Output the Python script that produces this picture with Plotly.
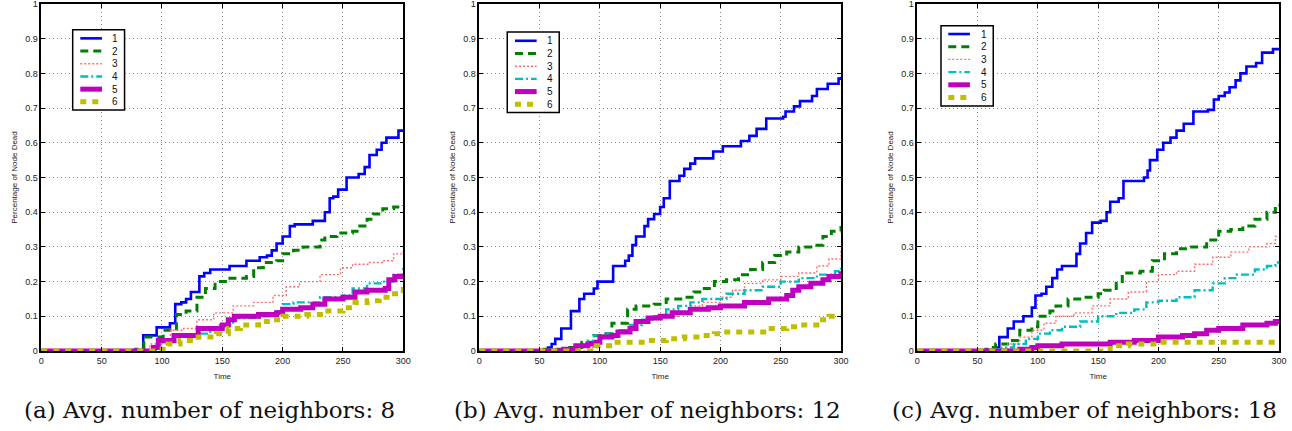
import plotly.graph_objects as go

W, H = 1292, 431

# ---------------- data (time, fraction of nodes dead) ----------------
SERIES_NAMES = ["1", "2", "3", "4", "5", "6"]
CAPTIONS = ["(a) Avg. number of neighbors: 8",
            "(b) Avg. number of neighbors: 12",
            "(c) Avg. number of neighbors: 18"]
X_TICKS = [0, 50, 100, 150, 200, 250, 300]
Y_TICKS = [0, 0.1, 0.2, 0.3, 0.4, 0.5, 0.6, 0.7, 0.8, 0.9, 1]

A1 = [(0, 0), (84.5, 0.045), (95.6, 0.068), (106.6, 0.08), (111, 0.135), (116, 0.14), (120, 0.15), (124, 0.17),
      (131, 0.215), (135, 0.225), (140, 0.235), (156, 0.245), (170, 0.26), (181, 0.27), (187, 0.275), (191, 0.29),
      (195, 0.31), (200, 0.33), (206, 0.36), (210, 0.365), (225, 0.375), (235, 0.4), (239, 0.44), (242, 0.445),
      (246, 0.465), (253, 0.5), (263, 0.51), (268, 0.53), (272, 0.565), (278, 0.58), (282, 0.6), (286, 0.615),
      (296, 0.635), (300, 0.635)]
A2 = [(0, 0), (78, 0.005), (85, 0.04), (101, 0.06), (112, 0.105), (120, 0.115), (129, 0.155), (136, 0.18), (144, 0.2),
      (154, 0.21), (170, 0.215), (176, 0.24), (184, 0.255), (195, 0.26), (200, 0.28), (209, 0.29), (217, 0.3),
      (231, 0.32), (235, 0.33), (245, 0.34), (258, 0.345), (264, 0.36), (270, 0.38), (275, 0.395), (283, 0.41),
      (292, 0.415), (300, 0.42)]
A3 = [(0, 0), (90, 0.02), (96, 0.035), (107, 0.06), (118, 0.065), (129, 0.09), (143, 0.11), (159, 0.13), (176, 0.14),
      (192, 0.16), (203, 0.185), (214, 0.2), (231, 0.22), (248, 0.24), (258, 0.25), (272, 0.255), (283, 0.26),
      (292, 0.28), (300, 0.29)]
A4 = [(0, 0), (95, 0.01), (100, 0.025), (110, 0.045), (130, 0.05), (140, 0.065), (148, 0.075), (159, 0.095),
      (181, 0.1), (195, 0.115), (200, 0.135), (209, 0.14), (231, 0.155), (250, 0.16), (258, 0.18), (270, 0.195),
      (283, 0.2), (292, 0.22), (300, 0.24)]
A5 = [(0, 0), (93, 0.01), (97, 0.03), (110, 0.045), (130, 0.065), (150, 0.075), (155, 0.09), (160, 0.1), (180, 0.105),
      (195, 0.11), (200, 0.12), (215, 0.125), (225, 0.135), (235, 0.15), (250, 0.155), (260, 0.17), (270, 0.175),
      (285, 0.18), (288, 0.205), (293, 0.215), (300, 0.215)]
A6 = [(0, 0), (97, 0.005), (105, 0.02), (115, 0.03), (130, 0.04), (145, 0.05), (155, 0.065), (165, 0.075),
      (180, 0.085), (190, 0.09), (200, 0.1), (220, 0.105), (235, 0.115), (250, 0.125), (260, 0.14), (270, 0.145),
      (280, 0.155), (290, 0.165), (300, 0.185)]

B1 = [(0, 0), (57, 0.01), (60, 0.02), (63, 0.035), (68, 0.065), (76, 0.115), (83, 0.15), (87, 0.165), (95, 0.18),
      (98, 0.2), (111, 0.245), (121, 0.26), (124, 0.275), (127, 0.305), (130, 0.33), (137, 0.36), (140, 0.38),
      (145, 0.395), (150, 0.415), (153, 0.44), (158, 0.49), (166, 0.505), (170, 0.525), (175, 0.54), (179, 0.555),
      (194, 0.575), (202, 0.59), (217, 0.605), (224, 0.62), (230, 0.64), (238, 0.67), (252, 0.675), (254, 0.69),
      (261, 0.705), (266, 0.72), (276, 0.735), (280, 0.755), (289, 0.77), (298, 0.785), (300, 0.79)]
B2 = [(0, 0), (50, 0.005), (75, 0.01), (85, 0.025), (95, 0.045), (105, 0.05), (110, 0.08), (123, 0.12), (130, 0.13),
      (145, 0.135), (155, 0.15), (170, 0.155), (178, 0.17), (185, 0.18), (195, 0.2), (205, 0.205), (215, 0.22),
      (225, 0.235), (235, 0.255), (245, 0.275), (255, 0.285), (265, 0.3), (275, 0.305), (285, 0.33), (292, 0.345),
      (300, 0.36)]
B3 = [(0, 0), (90, 0.01), (100, 0.035), (110, 0.05), (120, 0.06), (128, 0.08), (140, 0.09), (150, 0.1), (165, 0.11),
      (175, 0.13), (185, 0.14), (200, 0.155), (210, 0.175), (220, 0.195), (235, 0.205), (250, 0.215), (265, 0.225),
      (280, 0.245), (290, 0.265), (300, 0.29)]
B4 = [(0, 0), (70, 0.005), (80, 0.015), (90, 0.03), (95, 0.045), (105, 0.05), (115, 0.06), (125, 0.075), (135, 0.09),
      (145, 0.1), (155, 0.12), (165, 0.13), (175, 0.14), (185, 0.15), (205, 0.165), (220, 0.175), (235, 0.185),
      (250, 0.2), (265, 0.21), (280, 0.22), (295, 0.23), (300, 0.24)]
B5 = [(0, 0), (70, 0.005), (80, 0.015), (90, 0.02), (97, 0.025), (100, 0.04), (110, 0.045), (115, 0.055),
      (125, 0.065), (130, 0.085), (140, 0.095), (150, 0.1), (160, 0.11), (175, 0.12), (190, 0.125), (200, 0.13),
      (220, 0.14), (240, 0.15), (255, 0.16), (260, 0.175), (265, 0.185), (275, 0.195), (285, 0.205), (290, 0.215),
      (300, 0.23)]
B6 = [(0, 0), (97, 0.015), (112, 0.025), (140, 0.03), (155, 0.035), (170, 0.04), (185, 0.045), (195, 0.05),
      (200, 0.055), (240, 0.065), (255, 0.07), (265, 0.075), (280, 0.09), (290, 0.1), (300, 0.1)]

C1 = [(0, 0), (64, 0.01), (68, 0.04), (75, 0.065), (80, 0.085), (88, 0.1), (95, 0.125), (98, 0.16), (103, 0.165),
      (107, 0.185), (112, 0.21), (116, 0.235), (120, 0.245), (132, 0.28), (135, 0.31), (140, 0.34), (145, 0.37),
      (152, 0.375), (157, 0.4), (160, 0.43), (167, 0.44), (171, 0.49), (188, 0.5), (191, 0.52), (193, 0.55),
      (199, 0.58), (204, 0.6), (210, 0.615), (215, 0.635), (221, 0.655), (229, 0.69), (241, 0.695), (246, 0.725),
      (250, 0.735), (255, 0.745), (259, 0.76), (264, 0.78), (268, 0.8), (273, 0.82), (281, 0.83), (286, 0.86),
      (295, 0.87), (300, 0.87)]
C2 = [(0, 0), (57, 0.005), (60, 0.01), (65, 0.02), (75, 0.03), (85, 0.06), (95, 0.07), (100, 0.1), (110, 0.115),
      (115, 0.13), (125, 0.15), (140, 0.155), (150, 0.165), (155, 0.175), (165, 0.195), (170, 0.225), (185, 0.23),
      (195, 0.26), (205, 0.28), (215, 0.295), (225, 0.3), (240, 0.32), (250, 0.345), (260, 0.35), (270, 0.36),
      (280, 0.38), (290, 0.4), (297, 0.42), (300, 0.42)]
C3 = [(0, 0), (65, 0.005), (75, 0.02), (85, 0.04), (95, 0.06), (105, 0.08), (115, 0.1), (130, 0.11), (145, 0.13),
      (160, 0.15), (175, 0.17), (190, 0.2), (200, 0.22), (215, 0.23), (230, 0.25), (245, 0.27), (260, 0.285),
      (275, 0.3), (290, 0.31), (297, 0.33), (300, 0.33)]
C4 = [(0, 0), (60, 0.005), (70, 0.01), (80, 0.02), (90, 0.035), (100, 0.05), (110, 0.06), (120, 0.07), (135, 0.085),
      (150, 0.1), (165, 0.11), (180, 0.12), (190, 0.14), (200, 0.145), (215, 0.155), (230, 0.175), (245, 0.195),
      (255, 0.21), (265, 0.22), (280, 0.235), (290, 0.245), (297, 0.255), (300, 0.255)]
C5 = [(0, 0), (85, 0.005), (95, 0.01), (100, 0.015), (120, 0.02), (160, 0.025), (180, 0.03), (200, 0.04),
      (220, 0.045), (230, 0.05), (240, 0.06), (250, 0.065), (270, 0.075), (290, 0.08), (297, 0.085), (300, 0.085)]
C6 = [(0, 0), (160, 0.015), (175, 0.02), (200, 0.025), (300, 0.025)]

PANELS = [[A1, A2, A3, A4, A5, A6], [B1, B2, B3, B4, B5, B6], [C1, C2, C3, C4, C5, C6]]

# ---------------- styles ----------------
STYLES = [
    dict(color="#0000FF", width=2.6, dash="solid"),
    dict(color="#008000", width=3, dash="8px,5px"),
    dict(color="#FF6E6E", width=1.4, dash="2px,2px"),
    dict(color="#00BFBF", width=2.4, dash="8px,3px,2px,3px"),
    dict(color="#BF00BF", width=5, dash="solid"),
    dict(color="#BFBF00", width=5, dash="6px,6px"),
]

px_x = [(41.3, 403.3), (479.3, 841.0), (917.3, 1279.0)]
y_bottom_px, y_top_px = 351.0, 4.0
ydom = [(H - y_bottom_px) / H, (H - y_top_px) / H]

# legend placement (axis-domain fractions) per panel
LEG = [
    dict(box=(0.0867, 0.230, 0.6945, 0.926), row0=0.901, line=(0.1077, 0.1677), lab=0.19),
    dict(box=(0.0773, 0.221, 0.687, 0.919), row0=0.894, line=(0.0986, 0.1585), lab=0.182),
    dict(box=(0.0655, 0.210, 0.706, 0.9375), row0=0.9135, line=(0.0857, 0.1455), lab=0.1704),
]
ROW_STEP = 12.7 / (y_bottom_px - y_top_px)

fig = go.Figure()
shapes, annotations = [], []
FONT = "Liberation Sans, Arial, sans-serif"

for p, series in enumerate(PANELS):
    xa = "x" if p == 0 else f"x{p+1}"
    ya = "y" if p == 0 else f"y{p+1}"
    for name, pts, st in zip(SERIES_NAMES, series, STYLES):
        fig.add_trace(go.Scatter(
            x=[t for t, _ in pts], y=[v for _, v in pts], name=name,
            mode="lines", line=dict(shape="hv", **st),
            xaxis=xa, yaxis=ya, showlegend=False))
    x0, x1 = px_x[p]
    ax_common = dict(showline=True, mirror="ticks", linecolor="black", linewidth=1.5,
                     ticks="inside", ticklen=4, tickcolor="black", tickwidth=1,
                     showgrid=True, gridcolor="#8c8c8c", griddash="1px,3px", gridwidth=1,
                     zeroline=False, automargin=False, ticklabeloverflow="allow",
                     tickfont=dict(family=FONT, size=9, color="#222"))
    fig.layout[f"xaxis{'' if p == 0 else p+1}"] = dict(
        domain=[x0 / W, x1 / W], range=[0, 300], anchor=ya, tickvals=X_TICKS,
        title=dict(text="Time", font=dict(family=FONT, size=8, color="#222"), standoff=9),
        **ax_common)
    fig.layout[f"yaxis{'' if p == 0 else p+1}"] = dict(
        domain=ydom, range=[0, 1], anchor=xa, tickvals=Y_TICKS,
        title=dict(text="Percentage of Node Dead", font=dict(family=FONT, size=8, color="#222"), standoff=6),
        **ax_common)

    # legend (drawn box, line samples and labels)
    lg = LEG[p]
    xr, yr = f"{xa} domain", f"{ya} domain"
    bx0, bx1, by0, by1 = lg["box"]
    shapes.append(dict(type="rect", xref=xr, yref=yr, x0=bx0, x1=bx1, y0=by0, y1=by1,
                       line=dict(color="black", width=1.5), fillcolor="white", layer="above"))
    for i, (name, st) in enumerate(zip(SERIES_NAMES, STYLES)):
        yy = lg["row0"] - i * ROW_STEP
        shapes.append(dict(type="line", xref=xr, yref=yr, x0=lg["line"][0], x1=lg["line"][1], y0=yy, y1=yy,
                           line=dict(color=st["color"], width=st["width"], dash=st["dash"]), layer="above"))
        annotations.append(dict(xref=xr, yref=yr, x=lg["lab"], y=yy, text=name, showarrow=False,
                                xanchor="left", yanchor="middle",
                                font=dict(family=FONT, size=10, color="#111")))
    # caption
    cx = [209.5, 647.0, 1084.5][p]
    annotations.append(dict(xref="paper", yref="paper", x=cx / W, y=(H - 410) / H, text=CAPTIONS[p],
                            showarrow=False, xanchor="center", yanchor="middle",
                            font=dict(family="DejaVu Serif, serif", size=23, color="#111")))

fig.update_layout(width=W, height=H, margin=dict(l=0, r=0, t=0, b=0),
                  template="none", paper_bgcolor="white", plot_bgcolor="white",
                  shapes=shapes, annotations=annotations, showlegend=False)
fig.write_html("out.html")
